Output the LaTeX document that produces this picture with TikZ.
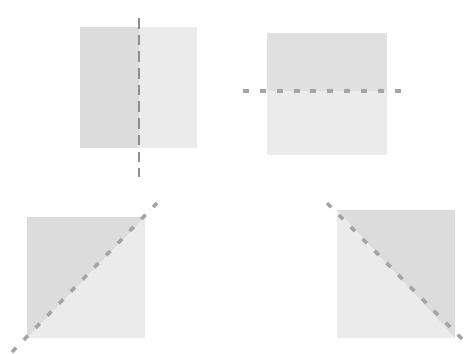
\documentclass[tikz,border=0pt]{standalone}
\usepackage{tikz}

\definecolor{halfdark}{HTML}{DCDCDC}
\definecolor{halflight}{HTML}{EBEBEB}
\definecolor{axisgray}{HTML}{8E8E8E}

\begin{document}
\begin{tikzpicture}[x=0.02cm,y=-0.02cm,
    axis/.style={axisgray,line width=1.6pt,dash pattern=on 6pt off 3.5pt},
    thickaxis/.style={axisgray!80,line width=2.8pt,dash pattern=on 3.4pt off 6.2pt}]

    \useasboundingbox (0,0) rectangle (469,353);

    % square with vertical axis
    \fill[halfdark] (80,27) rectangle (139,148);
    \fill[halflight] (139,27) rectangle (197,148);
    \draw[axis] (139,18) -- (139,177);

    % square with horizontal axis
    \fill[halfdark!70!halflight] (267,33) rectangle (387,91);
    \fill[halflight] (267,91) rectangle (387,155);
    \draw[thickaxis] (243,91) -- (403,91);

    % square with rising diagonal
    \fill[halfdark] (27,217) -- (145,217) -- (27,338) -- cycle;
    \fill[halflight] (145,217) -- (145,338) -- (27,338) -- cycle;
    \draw[thickaxis,line width=2pt] (12,352) -- (157,203);

    % square with falling diagonal
    \fill[halfdark] (337,210) -- (455,210) -- (455,338) -- cycle;
    \fill[halflight] (337,210) -- (455,338) -- (337,338) -- cycle;
    \draw[thickaxis,line width=2pt] (327,203) -- (468,345);
\end{tikzpicture}
\end{document}
